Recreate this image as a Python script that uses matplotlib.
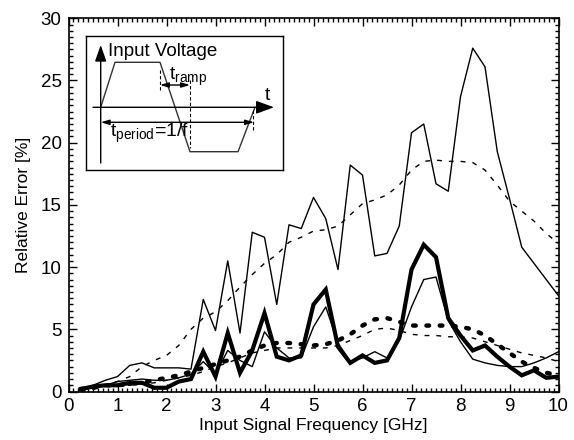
"""Relative error versus input signal frequency, with a sketch of the input."""

import numpy as np
import matplotlib
matplotlib.use('Agg')
import matplotlib.pyplot as plt
from matplotlib.ticker import MultipleLocator

plt.rcParams['font.family'] = ['Liberation Sans', 'DejaVu Sans']

# Frequencies in GHz (one sample every 0.25 GHz).
freq = np.arange(1, 41) * 0.25

# Thin solid, large spikes.
err_a = [0.1, 0.5, 0.9, 1.2, 2.1, 2.3, 1.9, 1.9, 1.9, 1.8,
         7.4, 4.9, 10.5, 4.7, 12.8, 12.4, 7.0, 13.4, 13.1, 15.6,
         13.9, 9.8, 18.2, 17.4, 10.9, 11.1, 13.3, 20.8, 21.5, 16.7,
         16.1, 23.7, 27.6, 26.1, 19.3, 15.5, 11.6, 10.3, 9.0, 7.7]
# Thin dashed, large smooth.
err_b = [0.0, 0.2, 0.5, 0.8, 1.2, 2.0, 2.5, 2.9, 3.7, 5.0,
         5.9, 6.4, 7.3, 8.4, 9.4, 10.3, 11.0, 12.0, 12.4, 12.9,
         13.0, 13.3, 14.2, 15.1, 15.4, 15.8, 16.6, 17.8, 18.5, 18.6,
         18.5, 18.5, 18.4, 17.8, 16.6, 15.3, 14.5, 13.7, 12.7, 11.9]
# Thick solid.
err_c = [0.2, 0.4, 0.5, 0.5, 0.7, 0.7, 0.3, 0.3, 0.8, 1.0,
         3.2, 1.2, 4.7, 1.5, 3.3, 6.3, 2.8, 2.5, 2.9, 7.0,
         8.2, 3.6, 2.3, 2.9, 2.3, 2.5, 4.3, 9.8, 11.8, 10.8,
         5.9, 4.5, 3.3, 3.7, 2.8, 2.0, 1.3, 1.7, 1.1, 1.2]
# Thin solid, medium.
err_d = [0.1, 0.3, 0.5, 0.8, 0.9, 1.0, 0.9, 0.9, 1.1, 1.4,
         2.4, 1.4, 3.3, 2.5, 2.0, 4.8, 3.5, 2.7, 2.7, 5.2,
         6.8, 3.9, 2.4, 2.7, 3.2, 2.7, 4.1, 6.8, 9.0, 9.2,
         5.7, 4.0, 2.6, 2.3, 2.1, 2.0, 2.0, 2.3, 2.7, 3.2]
# Thick dotted.
err_e = [0.2, 0.3, 0.5, 0.5, 0.6, 0.7, 0.9, 1.1, 1.3, 1.6,
         1.9, 2.2, 2.5, 2.8, 3.3, 3.7, 3.9, 3.9, 3.8, 3.7,
         3.8, 4.1, 4.6, 5.3, 5.8, 5.9, 5.6, 5.3, 5.3, 5.3,
         5.3, 5.2, 5.0, 4.5, 3.8, 3.1, 2.4, 1.9, 1.5, 1.3]
# Thin dashed, medium.
err_f = [0.1, 0.2, 0.4, 0.5, 0.5, 0.6, 0.7, 0.9, 1.1, 1.3,
         1.6, 2.0, 2.3, 2.7, 3.1, 3.3, 3.5, 3.5, 3.5, 3.5,
         3.5, 3.7, 4.1, 4.5, 5.0, 5.1, 4.9, 4.6, 4.5, 4.5,
         4.4, 4.4, 4.3, 4.0, 3.7, 3.4, 3.1, 2.9, 2.7, 2.4]

# Inset sketch of the trapezoidal input voltage (in inset drawing units).
wave_x = [100.7, 115, 160, 190, 238, 255]
wave_y = [107.3, 62.3, 62.3, 151.7, 151.7, 107.3]


def main():
    """Draw the chart."""
    fig = plt.figure(figsize=(5.74, 4.40), dpi=100)
    ax = fig.add_axes([68.5 / 574, 1 - 391.5 / 440,
                       490 / 574, (391.5 - 18.3) / 440])

    ax.plot(freq, err_a, color='black', lw=1.0)
    ax.plot(freq, err_b, color='black', lw=1.0, linestyle=(0, (3.5, 5)))
    ax.plot(freq, err_d, color='black', lw=1.0)
    ax.plot(freq, err_f, color='black', lw=1.0, linestyle=(0, (3.5, 5)))
    ax.plot(freq, err_e, color='black', lw=3.2, linestyle=(0, (0.6, 2.4)),
            dash_capstyle='round')
    ax.plot(freq, err_c, color='black', lw=3.0, solid_joinstyle='miter')

    ax.set_xlim(0, 10)
    ax.set_ylim(0, 30)
    ax.xaxis.set_major_locator(MultipleLocator(1))
    ax.xaxis.set_minor_locator(MultipleLocator(0.1))
    ax.yaxis.set_major_locator(MultipleLocator(5))
    ax.yaxis.set_minor_locator(MultipleLocator(0.5))
    ax.tick_params(which='both', direction='in', top=True, right=True,
                   labelsize=13.5, width=1.0)
    ax.tick_params(which='major', length=6, pad=5)
    ax.tick_params(which='minor', length=3)
    ax.set_xlabel('Input Signal Frequency [GHz]', fontsize=12.5, labelpad=2)
    ax.set_ylabel('Relative Error [%]', fontsize=12.5, labelpad=7)
    for sp in ax.spines.values():
        sp.set_linewidth(1.2)

    # Inset: sketch of the input voltage waveform.
    ins = fig.add_axes([86 / 574, 1 - 170 / 440, 197 / 574, 134 / 440])
    ins.set_xlim(86, 283)
    ins.set_ylim(170, 36)
    ins.set_xticks([])
    ins.set_yticks([])
    for sp in ins.spines.values():
        sp.set_linewidth(1.0)
    ins.set_facecolor('white')

    ins.plot(wave_x, wave_y, color='#333333', lw=1.0)
    ins.annotate('', xy=(100.7, 45), xytext=(100.7, 163),
                 arrowprops=dict(arrowstyle='-|>,head_length=1.0,head_width=0.35',
                                 color='black', lw=1.0, shrinkA=0, shrinkB=0))
    ins.annotate('', xy=(274, 107.3), xytext=(93, 107.3),
                 arrowprops=dict(arrowstyle='-|>,head_length=1.1,head_width=0.4',
                                 color='black', lw=1.0, shrinkA=0, shrinkB=0))
    ins.annotate('', xy=(190, 85), xytext=(160, 85),
                 arrowprops=dict(arrowstyle='<|-|>,head_length=0.5,head_width=0.15',
                                 color='black', lw=1.0, shrinkA=0, shrinkB=0))
    ins.annotate('', xy=(254, 122.3), xytext=(100.7, 122.3),
                 arrowprops=dict(arrowstyle='<|-|>,head_length=0.5,head_width=0.15',
                                 color='black', lw=1.0, shrinkA=0, shrinkB=0))
    ins.plot([160, 160], [70, 92], color='black', lw=0.8, linestyle=(0, (3, 2)))
    ins.plot([190, 190], [80, 148], color='black', lw=0.8, linestyle=(0, (3, 2)))
    ins.plot([253, 253], [110, 130], color='black', lw=0.8, linestyle=(0, (3, 2)))

    ins.text(108, 51, 'Input Voltage', fontsize=13.5, va='center', ha='left')
    ins.text(169, 80, r'$\mathregular{t_{ramp}}$', fontsize=14,
             va='baseline', ha='left')
    ins.text(267, 100, 't', fontsize=14, va='baseline', ha='center')
    ins.text(110, 137, r'$\mathregular{t_{period}}$=1/f', fontsize=14,
             va='baseline', ha='left')

    fig.savefig('out.png', dpi=100)


if __name__ == '__main__':
    main()
